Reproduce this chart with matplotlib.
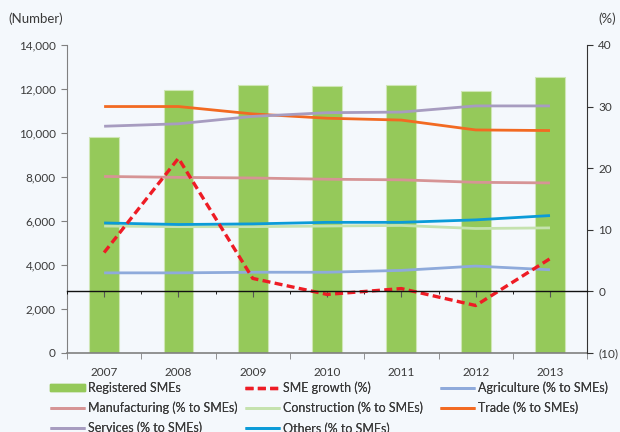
import matplotlib
matplotlib.use("Agg")
import matplotlib.pyplot as plt
import numpy as np
from matplotlib.patches import Patch

plt.rcParams['font.family'] = ['Lato', 'DejaVu Sans']

years = ["2007", "2008", "2009", "2010", "2011", "2012", "2013"]
registered_smes = [9830, 11960, 12200, 12150, 12180, 11920, 12530]
sme_growth = [6.3, 21.6, 2.1, -0.5, 0.45, -2.3, 5.3]
agriculture = [3.0, 3.0, 3.1, 3.1, 3.4, 4.1, 3.5]
manufacturing = [18.65, 18.5, 18.4, 18.2, 18.1, 17.7, 17.6]
construction = [10.6, 10.5, 10.5, 10.6, 10.7, 10.2, 10.3]
trade = [30.0, 30.0, 28.8, 28.1, 27.8, 26.2, 26.1]
services = [26.8, 27.2, 28.4, 29.0, 29.1, 30.1, 30.1]
others = [11.1, 10.85, 10.95, 11.2, 11.2, 11.6, 12.3]

left_ticks = [0, 2000, 4000, 6000, 8000, 10000, 12000, 14000]
right_ticks = [-10, 0, 10, 20, 30, 40]
right_labels = ["(10)", "0", "10", "20", "30", "40"]

bg = "#f4f8fc"
txt = "#3a3a3a"
bar_color = "#95c95a"

fig = plt.figure(figsize=(6.2, 4.32), dpi=100, facecolor=bg)
ax = fig.add_axes([0.108, 0.183, 0.839, 0.713], facecolor=bg)
ax2 = ax.twinx()

x = np.arange(len(years))
ax.bar(x, registered_smes, width=0.4, color=bar_color,
       edgecolor="#cfe6b5", linewidth=0.8, zorder=2)
ax.set_xlim(-0.5, len(years) - 0.5)
ax.set_ylim(0, 14000)
ax.set_yticks(left_ticks)
ax.set_yticklabels([f"{v:,}" for v in left_ticks])

lw = 2.0
series = [
    (agriculture, "#8eaadb", "Agriculture (% to SMEs)"),
    (manufacturing, "#d69495", "Manufacturing (% to SMEs)"),
    (construction, "#c5e2ae", "Construction (% to SMEs)"),
    (trade, "#f26a22", "Trade (% to SMEs)"),
    (services, "#a79cc0", "Services (% to SMEs)"),
    (others, "#0b9bd8", "Others (% to SMEs)"),
]
line_handles = {}
for vals, col, lab in series:
    h, = ax2.plot(x, vals, color=col, lw=lw, solid_capstyle="butt", zorder=3, label=lab)
    line_handles[lab] = h
g, = ax2.plot(x, sme_growth, color="#ee1c25", lw=2.4, ls=(0, (2.4, 1.3)),
              zorder=4, label="SME growth (%)")

ax2.set_ylim(-10, 40)
ax2.set_yticks(right_ticks)
ax2.set_yticklabels(right_labels)

# zero line of the percentage axis, with category boundary ticks
ax2.xaxis.set_visible(True)
ax2.spines['bottom'].set_position(('data', 0))
ax2.spines['bottom'].set_color("#111111")
ax2.spines['bottom'].set_linewidth(1.0)
ax2.set_xticks(np.arange(-0.5, len(years) + 0.5, 1.0))
ax2.tick_params(axis='x', which='major', length=4, direction='out',
                color="#555555", labelbottom=False)
ax2.spines['bottom'].set_zorder(5)

# bottom axis: labels at category centres, ticks at boundaries
ax.set_xticks(x)
ax.set_xticklabels(years)
ax.set_xticks(np.arange(-0.5, len(years) + 0.5, 1.0), minor=True)
ax.tick_params(axis='x', which='major', length=0, pad=10, labelsize=8.5, labelcolor=txt)
ax.tick_params(axis='x', which='minor', length=4, color="#808080")

ax.spines['top'].set_visible(False)
ax2.spines['top'].set_visible(False)
ax.spines['right'].set_visible(False)
ax2.spines['left'].set_visible(False)
ax.spines['left'].set_color("#808080")
ax.spines['bottom'].set_color("#808080")
ax.spines['bottom'].set_linewidth(1.2)
ax2.spines['right'].set_color("#333333")

ax.tick_params(axis='y', length=4, color="#808080", labelsize=8.5, labelcolor=txt, pad=4)
ax2.tick_params(axis='y', length=4, color="#333333", labelsize=8.5, labelcolor=txt, pad=4)

fig.text(0.013, 0.957, "(Number)", fontsize=9.5, color=txt, ha="left", va="center")
fig.text(0.993, 0.957, "(%)", fontsize=9.5, color=txt, ha="right", va="center")

# legend laid out as three columns, filled row by row
bar_handle = Patch(facecolor=bar_color, edgecolor=bar_color, label="Registered SMEs")
columns = [
    [bar_handle, line_handles["Manufacturing (% to SMEs)"], line_handles["Services (% to SMEs)"]],
    [g, line_handles["Construction (% to SMEs)"], line_handles["Others (% to SMEs)"]],
    [line_handles["Agriculture (% to SMEs)"], line_handles["Trade (% to SMEs)"]],
]
col_x = [50 / 620, 245 / 620, 440 / 620]
for cx, hs in zip(col_x, columns):
    leg = fig.legend(handles=hs, labels=[h.get_label() for h in hs],
                     loc="upper left", bbox_to_anchor=(cx, 0.116),
                     frameon=False, fontsize=9, handlelength=2.8, handleheight=0.6,
                     handletextpad=0.25, labelspacing=0.6,
                     borderaxespad=0, borderpad=0)
    for t in leg.get_texts():
        t.set_color(txt)
    fig.add_artist(leg)

fig.savefig("out.png", dpi=100, facecolor=bg)
